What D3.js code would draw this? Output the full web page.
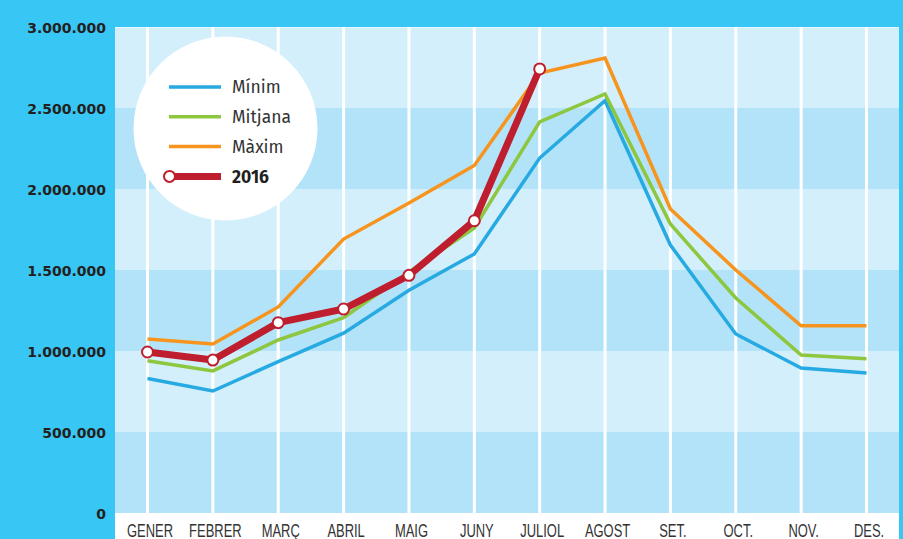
<!DOCTYPE html>
<html>
<head>
<meta charset="utf-8">
<script src="https://cdn.jsdelivr.net/npm/d3@7/dist/d3.min.js"></script>
<style>
  html, body { margin: 0; padding: 0; background: #38c6f4; }
  svg { display: block; }
</style>
</head>
<body>
<div id="chart"></div>
<script>
// Months and monthly values (passengers)
const months = ["GENER", "FEBRER", "MARÇ", "ABRIL", "MAIG", "JUNY", "JULIOL", "AGOST", "SET.", "OCT.", "NOV.", "DES."];
const minim   = [830000, 753000, 935000, 1110000, 1375000, 1599000, 2191000, 2545000, 1654000, 1105000, 895000, 864000];
const mitjana = [940000, 877000, 1068000, 1206000, 1488000, 1759000, 2414000, 2587000, 1784000, 1327000, 975000, 952000];
const maxim   = [1074000, 1043000, 1272000, 1691000, 1914000, 2145000, 2716000, 2809000, 1877000, 1500000, 1156000, 1156000];
const year2016 = [994000, 944000, 1175000, 1259000, 1467000, 1804000, 2741000];
const yTicks = [0, 500000, 1000000, 1500000, 2000000, 2500000, 3000000];

const seriesNames = ["Mínim", "Mitjana", "Màxim"];
const seriesValues = [minim, mitjana, maxim];
const seriesColors = ["#27aae1", "#8dc63f", "#f7941d"];
const redColor = "#be1e2d";

const W = 903, H = 539;
const plot = { left: 115, right: 899, top: 27, bottom: 513 };

const svg = d3.select("#chart").append("svg")
  .attr("width", W).attr("height", H);

svg.append("rect").attr("width", W).attr("height", H).attr("fill", "#38c6f4");

const x = d3.scalePoint().domain(months).range([147.5, 866.5]);
const y = d3.scaleLinear().domain([0, 3000000]).range([plot.bottom, plot.top]);

// Alternating horizontal bands
const bandEdges = yTicks.slice(0, -1).map((v, i) => [v, yTicks[i + 1]]);
svg.append("g").selectAll("rect").data(bandEdges).join("rect")
  .attr("x", plot.left)
  .attr("width", plot.right - plot.left)
  .attr("y", d => y(d[1]))
  .attr("height", d => y(d[0]) - y(d[1]))
  .attr("fill", (d, i) => i % 2 === 0 ? "#b3e3f9" : "#d3effb");

// Thin light edge along the top of the plot
svg.append("line")
  .attr("x1", plot.left).attr("x2", plot.right)
  .attr("y1", plot.top + 0.5).attr("y2", plot.top + 0.5)
  .attr("stroke", "#e4f5fc").attr("stroke-width", 1);

// White strip holding the month labels
svg.append("rect")
  .attr("x", plot.left).attr("y", plot.bottom)
  .attr("width", plot.right - plot.left).attr("height", H - plot.bottom)
  .attr("fill", "#ffffff");

// Vertical white gridlines at each month
svg.append("g").selectAll("line").data(months).join("line")
  .attr("x1", d => x(d)).attr("x2", d => x(d))
  .attr("y1", plot.top).attr("y2", plot.bottom)
  .attr("stroke", "#ffffff").attr("stroke-width", 3);

// Y axis
const locale = d3.formatLocale({ decimal: ",", thousands: ".", grouping: [3], currency: ["", "€"] });
const fmt = locale.format(",d");
const yAxis = svg.append("g")
  .attr("transform", `translate(106,0)`)
  .call(d3.axisLeft(y).tickValues(yTicks).tickFormat(fmt).tickSize(0).tickPadding(0));
yAxis.select(".domain").remove();
yAxis.selectAll("text")
  .attr("font-family", "DejaVu Sans, Verdana, sans-serif")
  .attr("font-weight", "bold")
  .attr("font-size", 14)
  .attr("fill", "#231f20")
  .attr("dy", "0.36em");

// X axis labels, set in a condensed cut
const xAxis = svg.append("g")
  .attr("transform", `translate(2,${plot.bottom})`)
  .call(d3.axisBottom(x).tickSize(0).tickPadding(0));
xAxis.select(".domain").remove();
xAxis.selectAll("text")
  .attr("font-family", "Liberation Sans, Arial, sans-serif")
  .attr("font-size", 18)
  .attr("fill", "#333333")
  .attr("y", 0)
  .attr("dy", 0)
  .attr("transform", "translate(0,23.5) scale(0.72,1)");

// Series lines
const line = d3.line().x((d, i) => x(months[i])).y(d => y(d));
const g = svg.append("g");
seriesValues.forEach((vals, k) => {
  g.append("path").datum(vals)
    .attr("d", line)
    .attr("fill", "none")
    .attr("stroke", seriesColors[k])
    .attr("stroke-width", 3.5)
    .attr("stroke-linejoin", "miter");
});

// 2016 line and markers
g.append("path").datum(year2016)
  .attr("d", line)
  .attr("fill", "none")
  .attr("stroke", redColor)
  .attr("stroke-width", 7)
  .attr("stroke-linejoin", "round");
g.selectAll("circle.pt").data(year2016).join("circle")
  .attr("class", "pt")
  .attr("cx", (d, i) => x(months[i]))
  .attr("cy", d => y(d))
  .attr("r", 5.5)
  .attr("fill", "#ffffff")
  .attr("stroke", redColor)
  .attr("stroke-width", 2);

// Legend in a white disc
const legend = svg.append("g");
legend.append("circle").attr("cx", 225.5).attr("cy", 128.5).attr("r", 92).attr("fill", "#ffffff");
const legendItems = seriesNames.map((n, i) => ({ name: n, color: seriesColors[i], bold: false }))
  .concat([{ name: "2016", color: redColor, bold: true }]);
const rows = legend.selectAll("g.item").data(legendItems).join("g")
  .attr("class", "item")
  .attr("transform", (d, i) => `translate(0,${87 + i * 29.8})`);
rows.append("line")
  .attr("x1", (d) => d.bold ? 170 : 169).attr("x2", 221)
  .attr("y1", 0).attr("y2", 0)
  .attr("stroke", d => d.color)
  .attr("stroke-width", d => d.bold ? 7 : 3.5);
rows.filter(d => d.bold).append("circle")
  .attr("cx", 169.5).attr("cy", 0).attr("r", 5.5)
  .attr("fill", "#ffffff").attr("stroke", redColor).attr("stroke-width", 2);
rows.append("text")
  .attr("x", 232).attr("y", 0).attr("dy", "0.36em")
  .attr("font-family", "Fira Sans, Noto Sans, sans-serif")
  .attr("font-size", 17.5)
  .attr("font-weight", d => d.bold ? "bold" : "normal")
  .attr("fill", d => d.bold ? "#231f20" : "#333333")
  .text(d => d.name);
</script>
</body>
</html>
